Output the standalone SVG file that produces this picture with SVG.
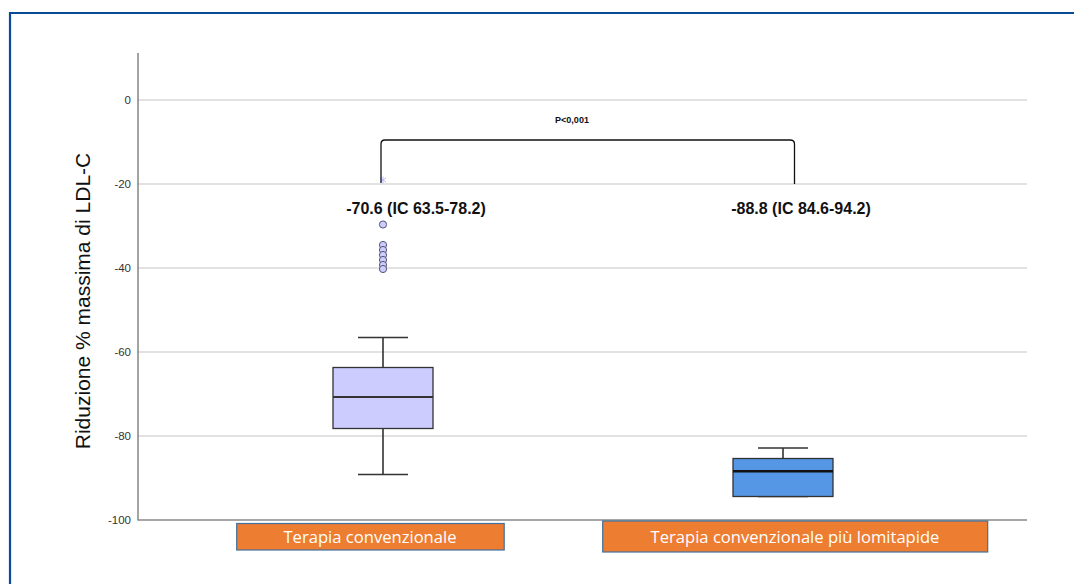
<svg xmlns="http://www.w3.org/2000/svg" width="1074" height="584" viewBox="0 0 1074 584">
<style>
.grid{stroke:#d9d9d9;stroke-width:1.6;fill:none}
.tick{font-family:"Liberation Sans",Arial,sans-serif;font-size:11.5px;fill:#333;text-anchor:end}
.box{stroke:#333;stroke-width:1.3}
.wh{stroke:#333;stroke-width:1.6;fill:none}
.out{fill:#ccccff;stroke:#555577;stroke-width:1}
.lbl{font-family:"Liberation Sans",Arial,sans-serif;font-size:16px;font-weight:bold;fill:#111;text-anchor:middle}
.cat{fill:#ed7d31;stroke:#41719c;stroke-width:1.2}
.cattxt{font-family:"Open Sans","Liberation Sans",sans-serif;font-size:16.6px;fill:#fff;text-anchor:middle}
</style>
<rect width="1074" height="584" fill="#fff"/>
<g id="frame">
<path d="M10,584 V13 H1074" fill="none" stroke="#0b4a96" stroke-width="2.2"/>
</g>
<g id="axes">
<line class="grid" x1="138" y1="100" x2="1027" y2="100"/>
<line class="grid" x1="138" y1="184" x2="1027" y2="184"/>
<line class="grid" x1="138" y1="268" x2="1027" y2="268"/>
<line class="grid" x1="138" y1="352" x2="1027" y2="352"/>
<line class="grid" x1="138" y1="436" x2="1027" y2="436"/>
<line x1="138" y1="53" x2="138" y2="520.5" stroke="#666" stroke-width="1.2"/>
<line x1="138" y1="520" x2="1027" y2="520" stroke="#888" stroke-width="1.4"/>
<text class="tick" x="131" y="104">0</text>
<text class="tick" x="131" y="188">-20</text>
<text class="tick" x="131" y="272">-40</text>
<text class="tick" x="131" y="356">-60</text>
<text class="tick" x="131" y="440">-80</text>
<text class="tick" x="131" y="524">-100</text>
<text transform="translate(90,301) rotate(-90)" font-family="'Liberation Sans',Arial,sans-serif" font-size="21" fill="#111" text-anchor="middle">Riduzione % massima di LDL-C</text>
</g>
<g id="box1">
<line class="wh" x1="383" y1="337.5" x2="383" y2="367.5"/>
<line class="wh" x1="383" y1="428.5" x2="383" y2="474.5"/>
<line class="wh" x1="358" y1="337.5" x2="408" y2="337.5"/>
<line class="wh" x1="358" y1="474.5" x2="408" y2="474.5"/>
<rect class="box" x="333" y="367.5" width="100" height="61" fill="#ccccff"/>
<line x1="333" y1="397" x2="433" y2="397" stroke="#333" stroke-width="1.8"/>
<circle class="out" cx="383" cy="224.5" r="3.6"/>
<circle class="out" cx="383" cy="245" r="3.6"/>
<circle class="out" cx="383" cy="250" r="3.6"/>
<circle class="out" cx="383" cy="255" r="3.6"/>
<circle class="out" cx="383" cy="260" r="3.6"/>
<circle class="out" cx="383" cy="265" r="3.6"/>
<circle class="out" cx="383" cy="269" r="3.6"/>
<path d="M383,176.5 V183.5 M380,178 L386,182 M386,178 L380,182" stroke="#b8b8ff" stroke-width="0.9" fill="none"/>
</g>
<g id="box2">
<line class="wh" x1="783" y1="448" x2="783" y2="458.5"/>
<line class="wh" x1="758" y1="448" x2="808" y2="448"/>
<line class="wh" x1="758" y1="496.5" x2="808" y2="496.5"/>
<rect class="box" x="733" y="458.5" width="100" height="38" fill="#5596e5"/>
<line x1="733" y1="471.3" x2="833" y2="471.3" stroke="#111" stroke-width="2.6"/>
</g>
<g id="connectors">
<path d="M381,183 V144 Q381,140 385,140 H790 Q794.5,140 794.5,144 V184" fill="none" stroke="#111" stroke-width="1.3"/>
<text x="572" y="123" font-family="'Liberation Sans',Arial,sans-serif" font-size="9" font-weight="bold" fill="#111" text-anchor="middle">P&lt;0,001</text>
</g>
<g id="labels">
<text class="lbl" x="416" y="214">-70.6 (IC 63.5-78.2)</text>
<text class="lbl" x="801" y="214">-88.8 (IC 84.6-94.2)</text>
</g>
<g id="cat1">
<rect class="cat" x="236.7" y="523.5" width="267.5" height="26.5"/>
<text class="cattxt" x="370" y="543">Terapia convenzionale</text>
</g>
<g id="cat2">
<rect class="cat" x="602.7" y="521" width="385" height="31"/>
<text class="cattxt" x="795" y="542.5">Terapia convenzionale più lomitapide</text>
</g>
</svg>
